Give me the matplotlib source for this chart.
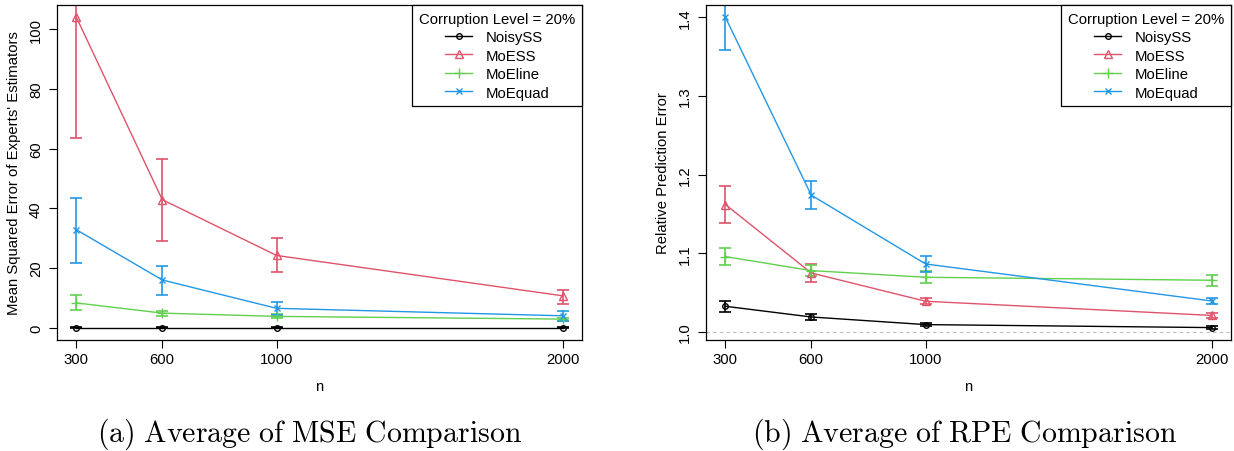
import matplotlib
matplotlib.use("Agg")
import matplotlib.pyplot as plt
import numpy as np

plt.rcParams['font.family'] = ['Liberation Sans', 'DejaVu Sans']
plt.rcParams['mathtext.fontset'] = 'cm'

n_values = [300, 600, 1000, 2000]
methods = ["NoisySS", "MoESS", "MoEline", "MoEquad"]
colors = ["#000000", "#DF536B", "#61D04F", "#2297E6"]
markers = ["o", "^", "+", "x"]
msizes = [4, 5.5, 6.5, 5]

# MSE panel: means, lower, upper
mse_mean = {
    "NoisySS": [0.05, 0.05, 0.05, 0.05],
    "MoESS": [103.9, 42.9, 24.2, 10.7],
    "MoEline": [8.3, 4.9, 3.8, 2.9],
    "MoEquad": [32.8, 16.0, 6.5, 4.0],
}
mse_low = {
    "NoisySS": [0.0, 0.0, 0.0, 0.0],
    "MoESS": [63.4, 29.1, 18.5, 8.0],
    "MoEline": [6.1, 4.0, 3.1, 2.2],
    "MoEquad": [21.8, 11.1, 4.4, 2.2],
}
mse_high = {
    "NoisySS": [0.1, 0.1, 0.1, 0.1],
    "MoESS": [144.4, 56.5, 29.9, 12.7],
    "MoEline": [10.8, 5.6, 4.6, 3.3],
    "MoEquad": [43.6, 20.8, 8.5, 5.6],
}

# RPE panel
rpe_mean = {
    "NoisySS": [1.0326, 1.019, 1.0093, 1.0055],
    "MoESS": [1.162, 1.075, 1.039, 1.021],
    "MoEline": [1.0958, 1.078, 1.0695, 1.0657],
    "MoEquad": [1.400, 1.174, 1.0864, 1.0394],
}
rpe_low = {
    "NoisySS": [1.025, 1.015, 1.007, 1.004],
    "MoESS": [1.138, 1.063, 1.036, 1.018],
    "MoEline": [1.085, 1.071, 1.062, 1.059],
    "MoEquad": [1.359, 1.156, 1.076, 1.036],
}
rpe_high = {
    "NoisySS": [1.039, 1.023, 1.011, 1.007],
    "MoESS": [1.186, 1.086, 1.043, 1.024],
    "MoEline": [1.107, 1.085, 1.077, 1.072],
    "MoEquad": [1.441, 1.1915, 1.097, 1.043],
}

mse_yticks = [0, 20, 40, 60, 80, 100]
rpe_yticks = [1.0, 1.1, 1.2, 1.3, 1.4]
rpe_ytick_labels = ["1.0", "1.1", "1.2", "1.3", "1.4"]
legend_title = "Corruption Level = 20%"
captions = ["(a) Average of MSE Comparison", "(b) Average of RPE Comparison"]
ylabels = ["Mean Squared Error of Experts' Estimators", "Relative Prediction Error"]

FS = 10.7
W, H = 1234, 452
fig = plt.figure(figsize=(W / 100, H / 100), dpi=100)
ax1 = fig.add_axes([57 / W, 1 - 341 / H, 525 / W, 335 / H])
ax2 = fig.add_axes([706 / W, 1 - 341 / H, 525 / W, 335 / H])


def r_range(vals):
    lo, hi = min(vals), max(vals)
    r = hi - lo
    return lo - 0.04 * r, hi + 0.04 * r


def draw(ax, mean, low, high, yticks, yticklabels, ylabel):
    for m, c, mk, ms in zip(methods, colors, markers, msizes):
        y = np.array(mean[m])
        lo = np.array(low[m])
        hi = np.array(high[m])
        ax.errorbar(n_values, y, yerr=[y - lo, hi - y], fmt="none",
                    ecolor=c, elinewidth=1.2, capsize=4.3, capthick=1.2,
                    clip_on=True, zorder=2)
        ax.plot(n_values, y, color=c, lw=1.0, marker=mk, ms=ms,
                mfc="none", mec=c, mew=1.0, label=m, zorder=3)
    allv = [v for m in methods for v in mean[m]]
    ax.set_ylim(*r_range(allv))
    ax.set_xlim(*r_range(n_values))
    ax.set_xticks(n_values)
    ax.set_xticklabels([str(v) for v in n_values])
    ax.set_yticks(yticks)
    ax.set_yticklabels(yticklabels, rotation=90, va="center")
    ax.tick_params(axis="both", labelsize=FS, length=6, width=0.8,
                   direction="out")
    ax.tick_params(axis="x", pad=3)
    ax.tick_params(axis="y", pad=4)
    for s in ax.spines.values():
        s.set_linewidth(0.9)
    ax.set_xlabel("n", fontsize=FS, labelpad=9)
    ax.set_ylabel(ylabel, fontsize=FS, labelpad=6)
    leg = ax.legend(loc="upper right", title=legend_title, fontsize=FS,
                    title_fontsize=FS, frameon=True, fancybox=False,
                    framealpha=1, edgecolor="black", borderaxespad=0,
                    handlelength=1.8, labelspacing=0.3, borderpad=0.45,
                    handletextpad=0.9, alignment="center")
    leg.get_frame().set_linewidth(0.9)


draw(ax1, mse_mean, mse_low, mse_high, mse_yticks,
     [str(v) for v in mse_yticks], ylabels[0])
ax2.axhline(1.0, color="#BBBBBB", lw=0.8, ls=(0, (3, 3)), zorder=1)
draw(ax2, rpe_mean, rpe_low, rpe_high, rpe_yticks, rpe_ytick_labels,
     ylabels[1])

for xc, cap in zip([310 / W, 965 / W], captions):
    fig.text(xc, 1 - 434 / H, "$\\mathrm{" + cap.replace(" ", "\\ ") + "}$",
             ha="center", va="center", fontsize=21.5)

fig.savefig("out.png", dpi=100)
